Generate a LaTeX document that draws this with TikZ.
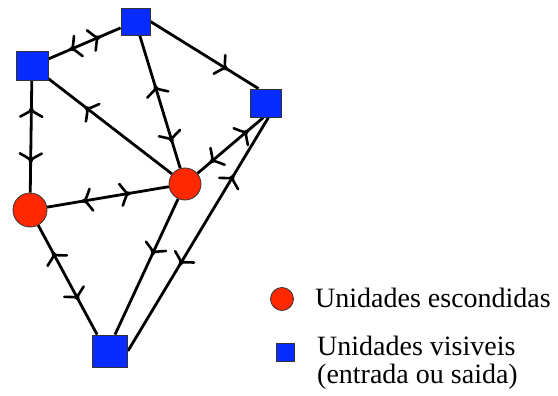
\documentclass[tikz,border=0pt]{standalone}
\usepackage{fontspec}
\setmainfont{Liberation Serif}
\usetikzlibrary{calc}
\pgfdeclarelayer{background}
\pgfsetlayers{background,main}
\definecolor{vblue}{RGB}{8,44,255}
\definecolor{hred}{RGB}{255,40,0}
\tikzset{
  vis/.style={rectangle, draw=black!80, line width=0.8pt, fill=vblue, inner sep=0pt},
  hid/.style={circle, draw=black!80, line width=0.8pt, fill=hred, inner sep=0pt},
  link/.style={line width=2.8pt, draw=black},
  chevst/.style={line width=2.6pt, line cap=round, line join=round},
  legend/.style={anchor=base west, inner sep=0pt, font=\fontsize{28}{28}\selectfont}
}
% #1 = tip coordinate, #2 = a point behind the tip on the same line
\newcommand{\chev}[2]{%
  \path ($(#1)!9pt!(#2)$) coordinate (cb);
  \draw[chevst] ($(cb)!11pt!90:(#1)$) .. controls ($(#1)!3pt!(#2)$) .. (#1)
    .. controls ($(#1)!3pt!(#2)$) .. ($(cb)!11pt!-90:(#1)$);}
\begin{document}
\begin{tikzpicture}
\path[use as bounding box] (0,0) rectangle (558pt,-396pt);
\begin{scope}[x=1pt,y=-1pt]
% nodes
\node[vis, minimum width=29pt, minimum height=27pt] (A) at (135.5,21.5) {};
\node[vis, minimum width=32pt, minimum height=29pt] (B) at (32,66) {};
\node[vis, minimum width=31pt, minimum height=28pt] (C) at (265.5,103) {};
\node[vis, minimum width=35pt, minimum height=32pt] (D) at (110,351) {};
\node[hid, minimum size=32pt] (H1) at (185,184) {};
\node[hid, minimum size=34pt] (H2) at (30,210) {};
\coordinate (Cn) at ([xshift=-7pt]C.north);
\coordinate (Cs1) at ([xshift=-2pt]C.south);
\coordinate (Cs2) at ([xshift=3pt]C.south);
\coordinate (Dnw) at ([xshift=5pt]D.north west);
\coordinate (Dn) at ([xshift=5pt]D.north);
% connectors
\begin{pgfonlayer}{background}
\draw[link] (B) -- (A) coordinate[pos=0.30] (m1a) coordinate[pos=0.71] (m1b);
\chev{m1a}{A} \chev{m1b}{B}
\draw[link] (A.east) -- (Cn) coordinate[pos=0.71] (m2);
\chev{m2}{A.east}
\draw[link] (H1) -- (A) coordinate[pos=0.20] (m3a) coordinate[pos=0.62] (m3b);
\chev{m3a}{A} \chev{m3b}{H1}
\draw[link] (H1) -- (B) coordinate[pos=0.70] (m4);
\chev{m4}{H1}
\draw[link] (B) -- (H2) coordinate[pos=0.24] (m5a) coordinate[pos=0.73] (m5b);
\chev{m5a}{H2} \chev{m5b}{B}
\draw[link] (H1) -- (Cs1) coordinate[pos=0.20] (m6a) coordinate[pos=0.76] (m6b);
\chev{m6a}{Cs1} \chev{m6b}{H1}
\draw[link] (H2) -- (H1) coordinate[pos=0.29] (m7a) coordinate[pos=0.68] (m7b);
\chev{m7a}{H1} \chev{m7b}{H2}
\draw[link] (H2) -- (Dnw) coordinate[pos=0.25] (m8a) coordinate[pos=0.68] (m8b);
\chev{m8a}{Dnw} \chev{m8b}{H2}
\draw[link] (H1) -- (Dn) coordinate[pos=0.41] (m9);
\chev{m9}{H1}
\draw[link] (D.east) -- (Cs2) coordinate[pos=0.37] (m10a) coordinate[pos=0.75] (m10b);
\chev{m10a}{Cs2} \chev{m10b}{D.east}
\end{pgfonlayer}
% legend
\node[hid, minimum size=23pt] (LH) at (282,299) {};
\node[vis, minimum size=18pt] (LV) at (285,352) {};
\node[legend] (T1) at (315,307) {Unidades escondidas};
\node[legend] (T2) at (317,355) {Unidades visiveis};
\node[legend] (T3) at (317,383) {(entrada ou saida)};
\end{scope}
\end{tikzpicture}
\end{document}
